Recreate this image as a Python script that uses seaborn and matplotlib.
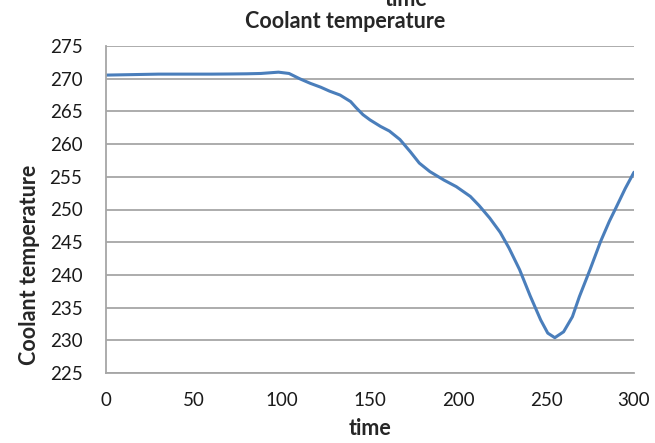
import matplotlib
matplotlib.use("Agg")
import matplotlib.pyplot as plt
import seaborn as sns
import pandas as pd

time = [0, 10, 20, 30, 40, 50, 60, 70, 80, 88, 93, 98, 104, 110, 116, 122, 127, 133,
        139, 142, 146, 150, 156, 161, 167, 173, 178, 184, 192, 199, 207, 212, 218,
        224, 229, 235, 241, 247, 251, 255, 260, 265, 269, 275, 281, 286, 290, 295, 300]
coolant = [270.55, 270.6, 270.65, 270.7, 270.7, 270.7, 270.7, 270.72, 270.75, 270.8,
           270.9, 271.0, 270.8, 270.0, 269.3, 268.7, 268.1, 267.5, 266.5, 265.6,
           264.5, 263.7, 262.7, 262.0, 260.7, 258.8, 257.1, 255.8, 254.5, 253.5,
           252.0, 250.6, 248.7, 246.5, 244.1, 240.8, 236.8, 233.1, 231.1, 230.4,
           231.3, 233.6, 236.7, 240.8, 245.1, 248.2, 250.4, 253.2, 255.7]
x_ticks = [0, 50, 100, 150, 200, 250, 300]
y_ticks = [225, 230, 235, 240, 245, 250, 255, 260, 265, 270, 275]

df = pd.DataFrame({"time": time, "Coolant temperature": coolant})

sns.set_style("white")
plt.rcParams["font.family"] = ["Lato", "DejaVu Sans"]

fig = plt.figure(figsize=(6.55, 4.43), dpi=100)
ax = fig.add_axes([106/655, 1-373/443, (634-106)/655, (373-46)/443])

sns.lineplot(data=df, x="time", y="Coolant temperature", ax=ax,
             color="#4a7ebb", linewidth=2.2)
ax.lines[0].set_solid_joinstyle("round")

ax.set_xlim(0, 300)
ax.set_ylim(225, 275)
ax.set_xticks(x_ticks)
ax.set_yticks(y_ticks)
ax.set_xticklabels([str(v) for v in x_ticks], fontsize=13.5)
ax.set_yticklabels([str(v) for v in y_ticks], fontsize=13.5)
ax.yaxis.grid(True, color="#a6a6a6", linewidth=1.3)
ax.xaxis.grid(False)
ax.set_axisbelow(True)
for s in ["top", "right"]:
    ax.spines[s].set_visible(False)
for s in ["left", "bottom"]:
    ax.spines[s].set_color("#a6a6a6")
    ax.spines[s].set_linewidth(1.3)
ax.tick_params(axis="both", direction="out", length=5, width=1.2, color="#a6a6a6",
               labelcolor="#1a1a1a")
ax.tick_params(axis="y", pad=12)
ax.tick_params(axis="x", pad=9)

ax.set_xlabel("time", fontsize=15.5, fontweight="bold", labelpad=6)
ax.set_ylabel("")
fig.text(30/655, 1-265/443, "Coolant temperature", rotation=90, fontsize=15.5,
         fontweight="bold", ha="center", va="center")
fig.text(345/655, 1-21/443, "Coolant temperature", fontsize=15.5, fontweight="bold",
         ha="center", va="center")
fig.text(406/655, 1-6/443, "time", fontsize=15.5, fontweight="bold",
         ha="center", va="baseline")

fig.savefig("out.png", dpi=100)
